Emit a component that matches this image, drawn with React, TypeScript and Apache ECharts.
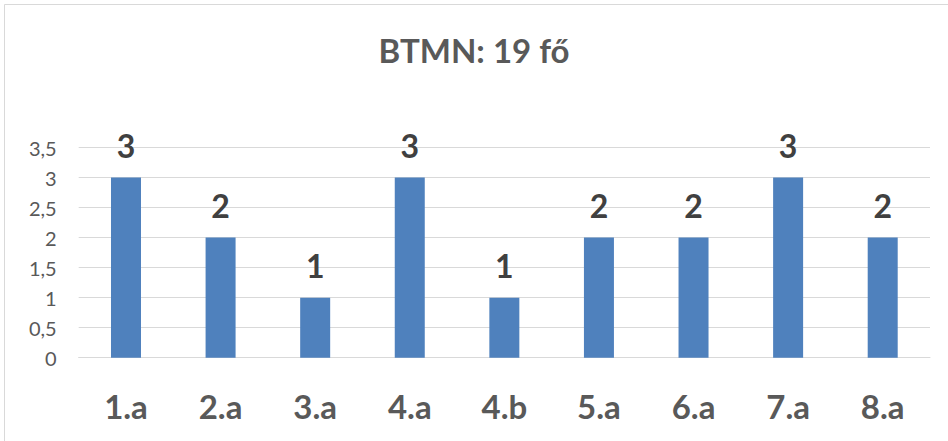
import React, { useEffect, useRef } from "react";
import * as echarts from "echarts";

const categories = ["1.a", "2.a", "3.a", "4.a", "4.b", "5.a", "6.a", "7.a", "8.a"];
const values = [3, 2, 1, 3, 1, 2, 2, 3, 2];
const titleText = "BTMN: 19 fő";

export default function App() {
  const ref = useRef<HTMLDivElement>(null);
  useEffect(() => {
    if (!ref.current) return;
    const chart = echarts.init(ref.current, undefined, { renderer: "svg" });
    chart.setOption({
      animation: false,
      backgroundColor: "#ffffff",
      textStyle: { fontFamily: "Lato, 'Noto Sans', sans-serif" },
      graphic: [
        {
          type: "rect",
          shape: { x: 4.5, y: 4.5, width: 970, height: 470 },
          style: { fill: "none", stroke: "#d9d9d9", lineWidth: 1 },
          silent: true,
        },
      ],
      title: {
        text: titleText,
        left: "center",
        top: 28,
        textStyle: { fontFamily: "Lato", fontSize: 33, fontWeight: "bold", color: "#595959" },
      },
      grid: { left: 78.7, right: 18, top: 147.5, bottom: 83.3, containLabel: false },
      xAxis: {
        type: "category",
        data: categories,
        axisLine: { show: true, lineStyle: { color: "#d9d9d9", width: 1 } },
        axisTick: { show: false },
        axisLabel: {
          margin: 32,
          fontFamily: "Lato",
          fontSize: 33,
          fontWeight: "bold",
          color: "#595959",
        },
      },
      yAxis: {
        type: "value",
        min: 0,
        max: 3.5,
        interval: 0.5,
        axisLine: { show: false },
        axisTick: { show: false },
        splitLine: { lineStyle: { color: "#d9d9d9", width: 1 } },
        axisLabel: {
          margin: 22,
          fontFamily: "Lato",
          fontSize: 20,
          color: "#595959",
          formatter: (v: number) => String(v).replace(".", ","),
        },
      },
      series: [
        {
          type: "bar",
          data: values,
          barWidth: 30,
          itemStyle: { color: "#4F81BD" },
          label: {
            show: true,
            position: "top",
            distance: 16,
            fontFamily: "Lato",
            fontSize: 32,
            fontWeight: "bold",
            color: "#404040",
          },
        },
      ],
    });
    return () => chart.dispose();
  }, []);
  return (
    <div
      ref={ref}
      style={{ position: "absolute", left: 0, top: 0, width: 948, height: 441 }}
    />
  );
}
